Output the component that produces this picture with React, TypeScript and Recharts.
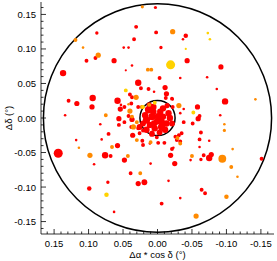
import React from "react";
import { ScatterChart, Scatter, XAxis, YAxis, ZAxis, ReferenceArea } from "recharts";

// offsets in degrees: [dRA*cos(dec), dDec, weight]
const RED: number[][] = [
  [0.088, 0.123, 1.7], [0.090, 0.087, 2.25], [0.103, 0.083, 2.25], [0.063, 0.083, 4],
  [0.049, 0.102, 1], [0.042, 0.102, 1], [0.034, 0.114, 2.25], [0.031, 0.132, 2.25],
  [0.046, 0.069, 0.7], [0.137, 0.065, 6], [0.028, 0.051, 6], [0.129, 0.025, 2.25],
  [0.117, 0.021, 4], [0.094, 0.029, 6], [0.095, 0.016, 4], [0.058, 0.025, 6],
  [0.054, 0.013, 4], [0.048, 0.016, 2.25], [0.134, 0.004, 1], [0.083, -0.009, 1],
  [0.056, -0.001, 4], [0.056, -0.010, 2.25], [0.037, -0.002, 4], [0.028, 0.016, 2.25],
  [0.003, 0.160, 1.5], [0.002, 0.124, 2.25], [-0.041, 0.119, 3], [-0.037, 0.114, 1],
  [-0.005, 0.102, 1.7], [-0.043, 0.083, 4], [-0.092, 0.074, 4], [-0.003, 0.058, 2.25],
  [-0.033, 0.058, 1], [-0.072, 0.059, 1], [0.024, 0.043, 2.25], [0.013, 0.042, 2.25],
  [-0.011, 0.044, 4], [0.005, 0.038, 1], [-0.013, 0.035, 4], [-0.021, 0.028, 2.25],
  [-0.086, 0.042, 1], [-0.098, 0.024, 6], [-0.058, 0.016, 4], [-0.038, 0.013, 1],
  [-0.061, 0.003, 2.25], [-0.091, 0.004, 1], [-0.059, -0.001, 4], [-0.038, -0.006, 2.25],
  [0.118, -0.032, 1], [0.081, -0.031, 1], [0.071, -0.023, 2.25], [0.036, -0.025, 4],
  [0.144, -0.051, 12], [0.076, -0.054, 6], [0.068, -0.055, 2.25], [0.058, -0.040, 4],
  [0.048, -0.061, 4], [0.092, -0.067, 1], [0.039, -0.080, 2.25], [0.072, -0.093, 1.7],
  [0.028, -0.095, 4], [0.099, -0.102, 3], [0.063, -0.136, 1], [0.008, -0.021, 2.25],
  [0.001, -0.028, 2.25], [0.022, -0.033, 2.25], [-0.031, -0.025, 2.25], [-0.061, -0.031, 2.25],
  [-0.061, -0.042, 1], [-0.021, -0.045, 2.25], [-0.019, -0.054, 4], [-0.048, -0.061, 1],
  [-0.063, -0.060, 1.7], [-0.075, -0.058, 6], [-0.078, -0.053, 4], [-0.151, -0.059, 2.25],
  [0.010, -0.066, 1], [-0.025, -0.066, 4], [0.019, -0.093, 5], [-0.016, -0.091, 1],
  [-0.064, -0.104, 2.25], [-0.069, -0.109, 2.25], [-0.033, -0.116, 1], [-0.006, -0.124, 2.25],
  [0.037, 0.076, 1], [0.040, 0.034, 2.25], [0.037, 0.030, 2.25], [0.053, 0.019, 1],
  [0.038, 0.021, 2.25], [0.042, 0.003, 2.25], [0.048, -0.006, 2.25], [0.038, -0.013, 2.25],
  [0.028, -0.015, 2.25], [0.026, -0.022, 2.25], [0.021, -0.018, 2.25], [0.011, -0.037, 1],
  [0.021, -0.039, 2.25], [-0.001, -0.036, 2.25], [-0.010, -0.036, 2.25], [-0.023, -0.043, 1],
  [-0.067, -0.054, 2.25], [-0.051, -0.008, 2.25], [-0.033, 0.007, 1], [-0.035, -0.022, 2.25],
  [-0.026, -0.027, 2.25], [-0.033, -0.034, 2.25], [-0.063, -0.021, 2.25], [-0.075, -0.033, 1],
  [-0.022, 0.016, 2.25], [-0.012, 0.029, 2.25], [-0.022, 0.027, 1], [0.026, -0.013, 5],
  [-0.028, -0.032, 2.25],
  // core
  [0.013, 0.012, 8], [0.006, 0.016, 6], [-0.008, 0.014, 6], [-0.016, 0.007, 6],
  [-0.018, 0.000, 6], [-0.013, -0.008, 6], [-0.006, -0.013, 8], [0.004, -0.015, 6],
  [0.011, -0.010, 6], [0.016, -0.003, 8], [0.018, 0.004, 6], [0.008, 0.002, 8],
  [-0.001, 0.002, 8], [-0.008, 0.002, 6], [0.001, -0.005, 6], [-0.006, -0.005, 6],
  [0.006, 0.009, 6], [-0.004, 0.009, 6], [-0.011, -0.017, 6], [0.016, -0.017, 6],
  [0.021, -0.008, 5], [-0.021, -0.008, 5], [-0.003, -0.021, 5], [0.008, -0.023, 5],
  [0.005, -0.008, 6], [0.012, 0.019, 4], [-0.014, 0.018, 4],
];

const ORANGE: number[][] = [
  [0.119, 0.113, 2.25], [0.086, 0.091, 4], [0.031, 0.030, 4], [0.042, 0.020, 1],
  [0.075, 0.004, 2.25], [0.035, -0.013, 4], [0.022, 0.161, 1.5], [-0.022, 0.125, 4],
  [0.014, 0.070, 2.25], [0.009, 0.070, 2.25], [-0.142, 0.027, 1], [-0.031, 0.018, 4],
  [-0.097, -0.009, 1], [0.030, -0.032, 2.25], [0.114, -0.043, 1], [0.098, -0.054, 4],
  [0.066, -0.042, 2.25], [0.043, -0.055, 2.25], [0.010, -0.035, 2.25], [-0.033, -0.037, 2.25],
  [-0.097, -0.018, 1.5], [-0.094, -0.059, 9], [-0.109, -0.045, 1], [-0.107, -0.071, 2.25],
  [-0.116, -0.085, 1], [0.025, -0.080, 2.25], [-0.100, -0.114, 3], [-0.056, -0.142, 4],
  [0.108, 0.102, 1], [0.040, 0.010, 4], [0.037, 0.002, 2.25], [0.030, -0.006, 2.25],
  [0.023, 0.016, 2.25], [0.012, 0.019, 2.25], [-0.029, -0.029, 2.25], [-0.050, -0.055, 2.25],
];

const YELLOW: number[][] = [
  [0.046, 0.040, 2.25], [-0.019, 0.077, 12], [-0.073, 0.123, 1], [-0.076, 0.114, 1],
  [-0.041, 0.100, 0.7], [0.021, 0.016, 2.25], [-0.052, 0.008, 2.25], [0.074, -0.111, 3],
  [0.004, 0.022, 2.25],
];

const TICKS = [
  -0.16, -0.15, -0.14, -0.13, -0.12, -0.11, -0.1, -0.09, -0.08, -0.07, -0.06, -0.05, -0.04,
  -0.03, -0.02, -0.01, 0, 0.01, 0.02, 0.03, 0.04, 0.05, 0.06, 0.07, 0.08, 0.09, 0.1, 0.11,
  0.12, 0.13, 0.14, 0.15, 0.16,
];

const OUTER_R = 0.1655;
const INNER_R = 0.0255;

const toPts = (arr: number[][]) => arr.map(([x, y, w]) => ({ x, y, w }));

const FONT = '"Liberation Sans", Arial, Helvetica, sans-serif';
const isMajor = (v: number) => Math.round(v * 100) % 5 === 0;
const fmt = (v: number) => v.toFixed(2);

function BottomTick({ x, y, payload }: any) {
  const v = payload.value;
  const m = isMajor(v);
  return (
    <g>
      <line x1={x} x2={x} y1={y} y2={y - (m ? 5 : 2.5)} stroke="#000" strokeWidth={0.8} />
      {m && (
        <text x={x} y={y + 13} textAnchor="middle" fontSize={9.5} fontFamily={FONT} fill="#000">
          {fmt(v)}
        </text>
      )}
    </g>
  );
}

function TopTick({ x, y, payload }: any) {
  const m = isMajor(payload.value);
  return <line x1={x} x2={x} y1={y} y2={y + (m ? 5 : 2.5)} stroke="#000" strokeWidth={0.8} />;
}

function LeftTick({ x, y, payload }: any) {
  const v = payload.value;
  const m = isMajor(v);
  return (
    <g>
      <line x1={x} x2={x + (m ? 5 : 2.5)} y1={y} y2={y} stroke="#000" strokeWidth={0.8} />
      {m && (
        <text x={x - 5} y={y + 3.5} textAnchor="end" fontSize={9.5} fontFamily={FONT} fill="#000">
          {fmt(v)}
        </text>
      )}
    </g>
  );
}

function RightTick({ x, y, payload }: any) {
  const m = isMajor(payload.value);
  return <line x1={x} x2={x - (m ? 5 : 2.5)} y1={y} y2={y} stroke="#000" strokeWidth={0.8} />;
}

const Ring = (props: any) => {
  const { x, y, width, height } = props;
  return (
    <ellipse
      cx={x + width / 2}
      cy={y + height / 2}
      rx={Math.abs(width) / 2}
      ry={Math.abs(height) / 2}
      fill="none"
      stroke="#000"
      strokeWidth={1.5}
    />
  );
};

export default function App() {
  const xDom: [number, number] = [-0.169, 0.169];
  const yDom: [number, number] = [-0.168, 0.168];
  const axisCommon = {
    type: "number" as const,
    ticks: TICKS,
    interval: 0,
    tickSize: 0,
    tickMargin: 0,
    allowDataOverflow: true,
    axisLine: { stroke: "#000", strokeWidth: 0.8 },
    tickLine: false,
  };

  return (
    <div style={{ position: "absolute", left: 0, top: 0, width: 277, height: 261, background: "#fff", fontFamily: FONT }}>
      <ScatterChart width={277} height={261} margin={{ top: 2, right: 3, left: 0, bottom: 0 }}>
        <XAxis {...axisCommon} dataKey="x" domain={xDom} reversed height={27} tick={BottomTick} />
        <XAxis {...axisCommon} xAxisId="top" orientation="top" domain={xDom} reversed height={0} tick={TopTick} />
        <YAxis {...axisCommon} dataKey="y" domain={yDom} width={41} tick={LeftTick} />
        <YAxis {...axisCommon} yAxisId="right" orientation="right" domain={yDom} width={0} tick={RightTick} />
        <ZAxis type="number" dataKey="w" domain={[0, 16]} range={[0, 16 * Math.PI * 1.7]} />
        <Scatter data={toPts(RED)} fill="#ff0000" isAnimationActive={false} />
        <Scatter data={toPts(ORANGE)} fill="#ff8a00" isAnimationActive={false} />
        <Scatter data={toPts(YELLOW)} fill="#ffd200" isAnimationActive={false} />
        <ReferenceArea x1={-OUTER_R} x2={OUTER_R} y1={-OUTER_R} y2={OUTER_R} shape={Ring} ifOverflow="visible" />
        <ReferenceArea x1={-INNER_R} x2={INNER_R} y1={-INNER_R} y2={INNER_R} shape={Ring} ifOverflow="visible" />
      </ScatterChart>
      <div style={{ position: "absolute", left: 157.5, top: 254, transform: "translate(-50%, -50%)", fontSize: 9.5, whiteSpace: "nowrap", color: "#000" }}>
        Δα * cos δ (°)
      </div>
      <div style={{ position: "absolute", left: 8, top: 118, transform: "translate(-50%, -50%) rotate(-90deg)", fontSize: 9.5, whiteSpace: "nowrap", color: "#000" }}>
        Δδ (°)
      </div>
    </div>
  );
}
